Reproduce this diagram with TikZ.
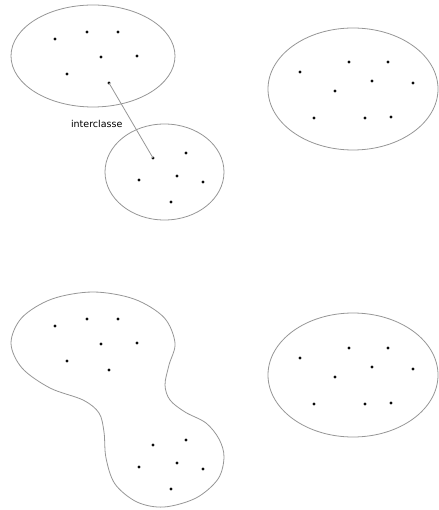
\documentclass[tikz,border=0pt]{standalone}
\usepackage{fontspec}
\usepackage{tikz}
\usetikzlibrary{positioning}
\newfontfamily\labelfont{DejaVu Sans}
\definecolor{outlinegray}{RGB}{150,150,150}
\definecolor{dotblack}{RGB}{10,10,10}

\tikzset{
  cluster/.style={draw=outlinegray, line width=0.8pt},
  link/.style={draw=outlinegray, line width=0.8pt},
  sample/.style={fill=dotblack}
}

\begin{document}
\begin{tikzpicture}[x=1pt, y=-1pt]
\useasboundingbox (0,0) rectangle (438,510);

% upper row: three separate classes
\draw[cluster] (93,56) ellipse [x radius=82pt, y radius=51pt];
\draw[cluster] (164.5,172) ellipse [x radius=59.5pt, y radius=48pt];
\draw[cluster] (353,89) ellipse [x radius=85pt, y radius=61pt];

\foreach \x/\y [count=\i] in {55/39,87/32,118/32,101/57,137/56,67/74,109/83}
  \coordinate (ta\i) at (\x,\y);
\foreach \x/\y [count=\i] in {153/158,186/153,139/180,177/176,203/182,171/202}
  \coordinate (tb\i) at (\x,\y);
\foreach \x/\y [count=\i] in {300/72,349/62,388/62,372/81,413/83,335/91,314/118,365/118,391/117}
  \coordinate (tc\i) at (\x,\y);
\foreach \i in {1,...,7} \fill[sample] (ta\i) circle (1.6pt);
\foreach \i in {1,...,6} \fill[sample] (tb\i) circle (1.6pt);
\foreach \i in {1,...,9} \fill[sample] (tc\i) circle (1.6pt);

% distance between the two classes
\draw[link] (ta7) -- (tb1);
\node[font=\labelfont\fontsize{9.5}{11}\selectfont, anchor=base] (inter) at (96.7,127.3) {interclasse};

% lower row: the two left classes merged into one
\draw[cluster] plot[smooth cycle, tension=0.55] coordinates {
  (175,343) (164,317.5) (134,299) (93,292) (52,299) (22,317.5) (11,343)
  (22,368) (50,388) (83,400) (99,413) (104,432) (106,458) (115,484)
  (137,502) (164,507) (196,498) (218,479) (224,457) (219,439) (206,423)
  (185,412) (170,400) (165,385) (169,365)};
\draw[cluster] (353,375) ellipse [x radius=85pt, y radius=62pt];

\foreach \x/\y [count=\i] in {55/326,87/319,118/319,101/344,137/343,67/361,109/370,
    153/445,186/440,139/467,177/463,203/469,171/489}
  \coordinate (ba\i) at (\x,\y);
\foreach \x/\y [count=\i] in {300/358,349/348,388/348,372/367,413/369,335/377,314/404,365/404,391/403}
  \coordinate (bc\i) at (\x,\y);
\foreach \i in {1,...,13} \fill[sample] (ba\i) circle (1.6pt);
\foreach \i in {1,...,9} \fill[sample] (bc\i) circle (1.6pt);
\end{tikzpicture}
\end{document}
